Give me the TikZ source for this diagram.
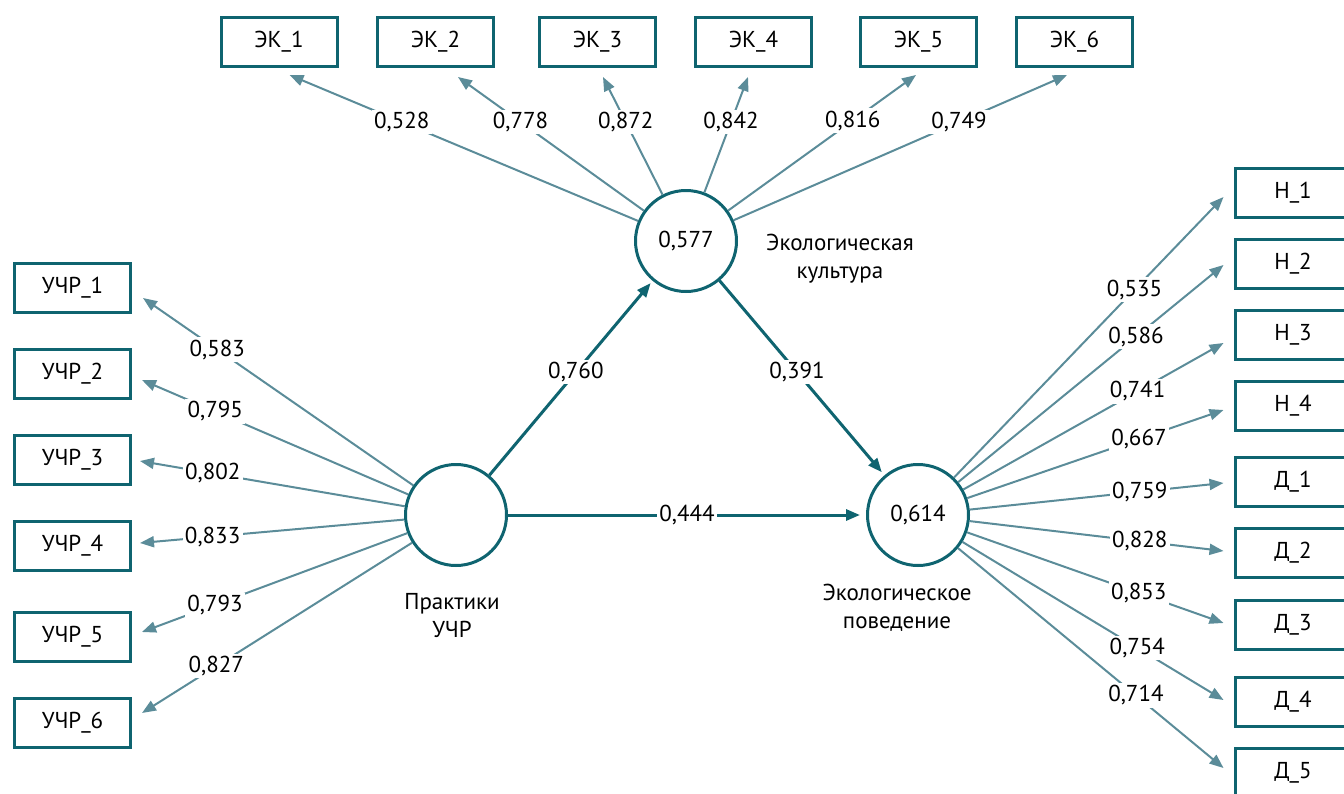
\documentclass[tikz,border=0pt]{standalone}
\usepackage{fontspec}
\setmainfont{PT Sans}
\usetikzlibrary{arrows.meta}

\definecolor{tealdark}{HTML}{0F6470}
\definecolor{teallight}{HTML}{5B8C99}

\tikzset{
    ind/.style={draw=tealdark, line width=1.5pt, minimum width=58pt,
	minimum height=24.5pt, inner sep=0pt},
    lat/.style={circle, draw=tealdark, line width=1.5pt, minimum size=50.5pt,
	inner sep=0pt},
    latname/.style={align=center},
    load/.style={teallight, line width=1pt,
	-{Triangle[length=7pt, width=5.5pt]}},
    reg/.style={tealdark, line width=1.5pt,
	-{Triangle[length=7pt, width=5.5pt]}},
    lab/.style={fill=white, text=black, inner sep=1.2pt}
}

\begin{document}
\begin{tikzpicture}[x=0.5pt, y=-0.5pt, font=\fontsize{11.5}{14}\selectfont]
    \useasboundingbox (0, 0) rectangle (1344, 793);
    \clip (0, 0) rectangle (1344, 793);

    % latent variables
    \node [lat] (ek) at (686, 241) {0,577};
    \node [lat] (prac) at (456, 515) {};
    \node [lat] (beh) at (918, 515) {0,614};
    \node [latname] (ekname) at (840, 259) {Экологическая\\культура};
    \node [latname] (pracname) at (452, 615) {Практики\\УЧР};
    \node [latname] (behname) at (897, 608) {Экологическое\\поведение};

    % indicators
    \node [ind] (ek1) at (279, 42) {ЭК\_1};
    \node [ind] (ek2) at (435.5, 42) {ЭК\_2};
    \node [ind] (ek3) at (597.5, 42) {ЭК\_3};
    \node [ind] (ek4) at (753.5, 42) {ЭК\_4};
    \node [ind] (ek5) at (918.5, 42) {ЭК\_5};
    \node [ind] (ek6) at (1074.5, 42) {ЭК\_6};

    \node [ind] (u1) at (72.5, 288) {УЧР\_1};
    \node [ind] (u2) at (72.5, 374) {УЧР\_2};
    \node [ind] (u3) at (72.5, 459.5) {УЧР\_3};
    \node [ind] (u4) at (72.5, 546) {УЧР\_4};
    \node [ind] (u5) at (72.5, 636.5) {УЧР\_5};
    \node [ind] (u6) at (72.5, 722.5) {УЧР\_6};

    \node [ind] (n1) at (1293, 193) {Н\_1};
    \node [ind] (n2) at (1293, 263.5) {Н\_2};
    \node [ind] (n3) at (1293, 334.5) {Н\_3};
    \node [ind] (n4) at (1293, 405.5) {Н\_4};
    \node [ind] (d1) at (1293, 481.5) {Д\_1};
    \node [ind] (d2) at (1293, 552.5) {Д\_2};
    \node [ind] (d3) at (1293, 625) {Д\_3};
    \node [ind] (d4) at (1293, 701.5) {Д\_4};
    \node [ind] (d5) at (1293, 773) {Д\_5};

    % paths between latent variables
    \draw [reg, shorten >=1.5pt] (prac) -- (ek)
	node [lab, pos=0.53] {0,760};
    \draw [reg, shorten >=2pt] (ek) -- (beh)
	node [lab, pos=0.47] {0,391};
    \draw [reg, shorten >=3pt] (prac) -- (beh)
	node [lab, pos=0.5] {0,444};

    % loadings: Экологическая культура
    \draw [load] (ek) -- ([xshift=5.25pt, yshift=-3.5pt]ek1.south)
	node [lab, pos=0.678] {0,528};
    \draw [load] (ek) -- ([xshift=11.25pt, yshift=-4.5pt]ek2.south)
	node [lab, pos=0.663] {0,778};
    \draw [load] (ek) -- ([xshift=2.75pt, yshift=-4.5pt]ek3.south)
	node [lab, pos=0.617] {0,872};
    \draw [load] (ek) -- ([xshift=-2.75pt, yshift=-4.5pt]ek4.south)
	node [lab, pos=0.61] {0,842};
    \draw [load] (ek) -- ([xshift=-1.25pt, yshift=-3.5pt]ek5.south)
	node [lab, pos=0.663] {0,816};
    \draw [load] (ek) -- ([xshift=-3.75pt, yshift=-3.5pt]ek6.south)
	node [lab, pos=0.676] {0,749};

    % loadings: Практики УЧР
    \draw [load] (prac) -- ([xshift=5.5pt, yshift=-5pt]u1.east)
	node [lab, pos=0.725] {0,583};
    \draw [load] (prac) -- ([xshift=5pt, yshift=-3pt]u2.east)
	node [lab, pos=0.725] {0,795};
    \draw [load] (prac) -- ([xshift=4pt, yshift=-0.75pt]u3.east)
	node [lab, pos=0.725] {0,802};
    \draw [load] (prac) -- ([xshift=4pt, yshift=1.5pt]u4.east)
	node [lab, pos=0.725] {0,833};
    \draw [load] (prac) -- ([xshift=5pt, yshift=2.25pt]u5.east)
	node [lab, pos=0.725] {0,793};
    \draw [load] (prac) -- ([xshift=5pt, yshift=4.75pt]u6.east)
	node [lab, pos=0.725] {0,827};

    % loadings: Экологическое поведение
    \draw [load] (beh) -- ([xshift=-5pt, yshift=-2pt]n1.west)
	node [lab, pos=0.67] {0,535};
    \draw [load] (beh) -- ([xshift=-5pt, yshift=-0.75pt]n2.west)
	node [lab, pos=0.67] {0,586};
    \draw [load] (beh) -- ([xshift=-5pt, yshift=-4.25pt]n3.west)
	node [lab, pos=0.67] {0,741};
    \draw [load] (beh) -- ([xshift=-5pt, yshift=-2.25pt]n4.west)
	node [lab, pos=0.67] {0,667};
    \draw [load] (beh) -- ([xshift=-5pt, yshift=-0.75pt]d1.west)
	node [lab, pos=0.67] {0,759};
    \draw [load] (beh) -- ([xshift=-5pt, yshift=0.75pt]d2.west)
	node [lab, pos=0.67] {0,828};
    \draw [load] (beh) -- ([xshift=-5pt, yshift=1pt]d3.west)
	node [lab, pos=0.67] {0,853};
    \draw [load] (beh) -- ([xshift=-5pt, yshift=0.75pt]d4.west)
	node [lab, pos=0.67] {0,754};
    \draw [load] (beh) -- ([xshift=-5pt, yshift=2.5pt]d5.west)
	node [lab, pos=0.67] {0,714};
\end{tikzpicture}
\end{document}
